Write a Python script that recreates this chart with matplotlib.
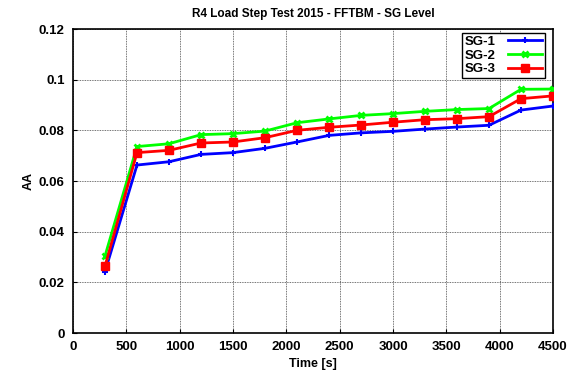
import matplotlib
matplotlib.use("Agg")
import matplotlib.pyplot as plt

plt.rcParams['font.family'] = ['Liberation Sans', 'DejaVu Sans']
plt.rcParams['font.weight'] = 'bold'

time_s = [300, 600, 900, 1200, 1500, 1800, 2100, 2400, 2700, 3000, 3300, 3600, 3900, 4200, 4500]
sg1 = [0.0242, 0.0663, 0.0676, 0.0705, 0.0712, 0.0729, 0.0754, 0.0780, 0.0790, 0.0796, 0.0805, 0.0813, 0.0820, 0.0880, 0.0896]
sg2 = [0.0304, 0.0736, 0.0747, 0.0783, 0.0787, 0.0797, 0.0830, 0.0845, 0.0859, 0.0866, 0.0875, 0.0882, 0.0886, 0.0962, 0.0963]
sg3 = [0.0264, 0.0712, 0.0721, 0.0750, 0.0754, 0.0771, 0.0800, 0.0812, 0.0821, 0.0832, 0.0842, 0.0846, 0.0854, 0.0925, 0.0936]

xticks = [0, 500, 1000, 1500, 2000, 2500, 3000, 3500, 4000, 4500]
yticks = [0, 0.02, 0.04, 0.06, 0.08, 0.1, 0.12]
ytick_labels = ['0', '0.02', '0.04', '0.06', '0.08', '0.1', '0.12']

fig = plt.figure(figsize=(5.68, 3.73), dpi=100)
ax = fig.add_axes([73/568, 1-333/373, 480/568, 304/373])

ax.plot(time_s, sg1, color='#0000ff', lw=2, marker='+', ms=4.5, mew=1.5, label='SG-1', zorder=3)
ax.plot(time_s, sg2, color='#00ff00', lw=2, marker='x', ms=4.5, mew=2, label='SG-2', zorder=3)
ax.plot(time_s, sg3, color='#ff0000', lw=2, marker='s', ms=5.5, label='SG-3', zorder=3)

ax.set_xlim(0, 4500)
ax.set_ylim(0, 0.12)
ax.set_xticks(xticks)
ax.set_yticks(yticks)
ax.set_yticklabels(ytick_labels)
ax.tick_params(direction='in', length=3, labelsize=9.5, width=0.8, pad=6)
ax.grid(True, color='#444444', linestyle=(0, (1, 1)), linewidth=0.6)
for s in ax.spines.values():
    s.set_linewidth(1.2)

ax.set_xlabel('Time [s]', fontsize=9, fontweight='bold', labelpad=3)
ax.set_ylabel('AA', fontsize=9, fontweight='bold', labelpad=3)
ax.set_title('R4 Load Step Test 2015 - FFTBM - SG Level', fontsize=8.5, fontweight='bold', pad=9)

leg = ax.legend(loc='upper right', markerfirst=False, fancybox=False, framealpha=1,
                edgecolor='black', fontsize=9.5, handlelength=2.6, borderpad=0.22,
                labelspacing=0.1, borderaxespad=0.3, handletextpad=0.9,
                bbox_to_anchor=(0.991, 1.0))
leg.get_frame().set_linewidth(1.0)
for t in leg.get_texts():
    t.set_fontweight('bold')

fig.savefig('out.png', dpi=100)
